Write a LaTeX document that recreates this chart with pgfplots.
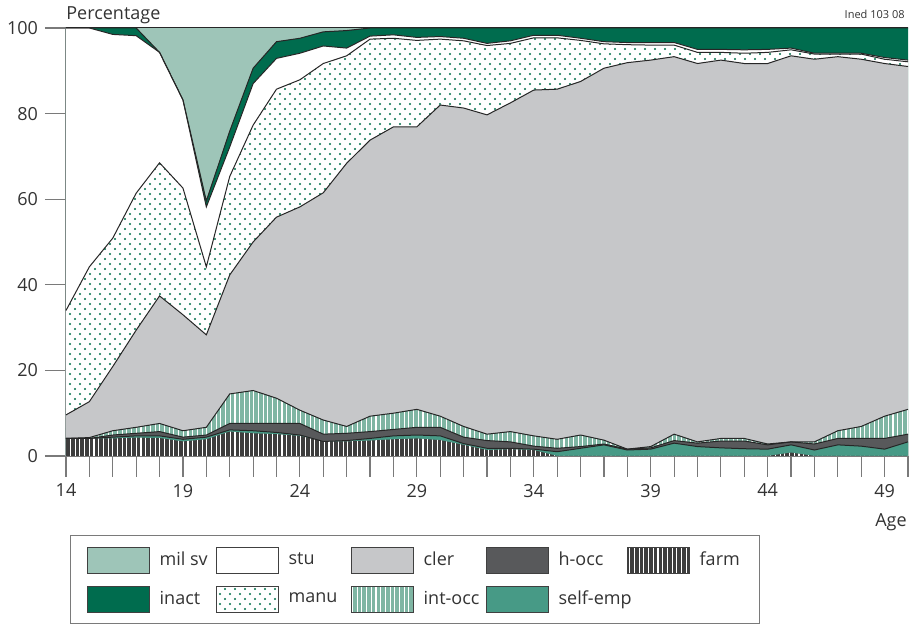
\documentclass[border=0pt]{standalone}
\usepackage{fontspec}
\setmainfont{Open Sans}
\usepackage{pgfplots}
\pgfplotsset{compat=1.18}
\usepackage{pgfplotstable}
\usetikzlibrary{patterns.meta}

\definecolor{milsv}{HTML}{9EC5B8}
\definecolor{inact}{HTML}{006C4E}
\definecolor{cler}{HTML}{C6C7C9}
\definecolor{hocc}{HTML}{58595B}
\definecolor{selfemp}{HTML}{479A86}
\definecolor{intocc}{HTML}{7FB5A3}
\definecolor{farm}{HTML}{3D3D3D}
\definecolor{dotgreen}{HTML}{00704A}
\definecolor{axisgrey}{HTML}{7A7A7A}
\definecolor{txt}{HTML}{333333}

% cumulative upper boundaries of each layer
% F farm, S +self-emp, H +h-occ, I +int-occ, C +cler, M +manu, T +stu, N +inact (rest up to 100 = mil sv)
\pgfplotstableread{
age F   S   H   I    C    M    T    N
14  4.1 4.1 4.1 4.1  9.6  34.0 100  100
15  4.1 4.1 4.1 4.3  12.7 44.2 100  100
16  4.1 4.4 4.9 5.9  20.9 50.9 98.5 100
17  4.3 4.7 5.3 6.7  29.4 61.4 98.2 100
18  4.2 4.7 5.7 7.6  37.4 68.5 94.3 94.3
19  3.4 3.9 4.4 5.9  33.0 62.6 83.2 83.2
20  3.9 4.4 4.9 6.7  28.3 44.2 58.2 59.6
21  5.7 6.1 7.6 14.5 42.3 65.3 72.2 75.9
22  5.3 5.9 7.6 15.3 50.0 77.3 87.0 90.6
23  5.1 5.5 7.6 13.5 55.8 85.7 92.9 96.8
24  4.7 4.9 7.6 10.7 58.2 87.9 94.1 97.6
25  3.4 3.4 5.1 8.4  61.5 91.7 95.8 99.1
26  3.4 3.6 5.3 6.9  68.4 93.5 95.3 99.4
27  3.6 4.1 5.7 9.3  73.8 97.4 98.1 100
28  3.9 4.7 6.2 10.0 76.9 97.6 98.4 100
29  4.1 4.9 6.7 10.9 76.9 97.1 97.8 100
30  3.7 4.7 6.7 9.3  82.0 97.4 98.0 100
31  2.6 2.9 4.4 6.9  81.3 97.0 97.6 100
32  1.4 1.8 3.6 5.1  79.7 95.9 96.4 100
33  1.6 1.8 3.3 5.7  82.5 96.4 97.0 100
34  1.4 1.6 2.3 4.7  85.5 97.7 98.3 100
35  0   1.0 1.8 3.9  85.7 97.7 98.3 100
36  0   1.8 2.2 4.9  87.5 97.1 97.6 100
37  0   2.6 2.8 3.7  90.6 96.3 96.8 100
38  0   1.4 1.6 1.6  91.9 96.1 96.6 100
39  0   1.6 1.9 2.2  92.5 96.0 96.6 100
40  0   3.0 3.6 5.1  93.3 96.0 96.6 100
41  0   2.2 3.0 3.3  91.7 94.3 95.0 100
42  0   1.9 3.5 4.1  92.5 94.3 95.0 100
43  0   1.7 3.5 4.1  91.7 94.1 94.9 100
44  0   1.6 2.6 2.8  91.7 94.3 95.0 100
45  0.8 2.6 3.3 3.3  93.5 94.9 95.3 100
46  0   1.4 2.8 3.3  92.7 93.9 94.1 100
47  0   2.6 4.1 5.9  93.3 93.9 94.1 100
48  0   2.3 4.1 6.9  92.7 93.9 94.1 100
49  0   1.6 4.1 9.3  91.7 92.7 93.1 100
50  0   3.3 5.1 10.9 91.0 92.1 92.5 100
}\shares

\tikzset{
  stripes/.style={postaction={pattern={Lines[angle=90,distance=2.35pt,line width=0.55pt]},pattern color=white}},
  dotfill/.style={postaction={pattern={Dots[distance=5pt,radius=0.55pt]},pattern color=dotgreen},
                  postaction={pattern={Dots[distance=5pt,radius=0.55pt,xshift=2.5pt,yshift=2.5pt]},pattern color=dotgreen}},
  edge/.style={draw=black!85,line width=0.5pt,no markers},
}

\begin{document}
\begin{tikzpicture}
\begin{axis}[
  name=ax,
  width=421pt, height=214pt, scale only axis,
  xmin=14, xmax=50, ymin=0, ymax=100,
  axis x line*=bottom, axis y line*=left,
  axis line style={draw=axisgrey,line width=0.6pt},
  clip=false,
  xtick={14,19,...,49},
  minor xtick={15,...,50},
  ytick={0,20,...,100},
  tick align=outside,
  major tick length=10.5pt, minor tick length=10.5pt,
  tick style={draw=axisgrey,line width=0.6pt},
  tick label style={font=\fontsize{9}{11}\selectfont, text=txt},
  /pgf/number format/assume math mode=true,
  legend columns=5,
  legend style={at={(axis description cs:0.0048,-0.185)}, anchor=north west,
    draw=axisgrey, line width=0.6pt, inner xsep=8pt, inner ysep=5.5pt,
    font=\fontsize{9}{11}\selectfont, text=txt,
    /tikz/every odd column/.append style={column sep=3pt},
    /tikz/every even column/.append style={column sep=0pt},
    row sep=6pt},
  legend cell align=left,
  legend image code/.code={\draw[#1,draw=black!75,line width=0.5pt] (0pt,-6.5pt) rectangle (31pt,6.5pt);},
]
% areas, painted from the top layer down
\addplot[fill=milsv,draw=none,forget plot] coordinates {(14,100) (50,100)} \closedcycle;
\addplot[fill=inact,draw=none,forget plot] table[x=age,y=N] {\shares} \closedcycle;
\addplot[fill=white,draw=none,forget plot] table[x=age,y=T] {\shares} \closedcycle;
\addplot[fill=white,draw=none,dotfill,forget plot] table[x=age,y=M] {\shares} \closedcycle;
\addplot[fill=cler,draw=none,forget plot] table[x=age,y=C] {\shares} \closedcycle;
\addplot[fill=intocc,draw=none,stripes,forget plot] table[x=age,y=I] {\shares} \closedcycle;
\addplot[fill=hocc,draw=none,forget plot] table[x=age,y=H] {\shares} \closedcycle;
\addplot[fill=selfemp,draw=none,forget plot] table[x=age,y=S] {\shares} \closedcycle;
\addplot[fill=farm,draw=none,stripes,forget plot] table[x=age,y=F] {\shares} \closedcycle;
% boundary lines
\addplot[edge,forget plot] coordinates {(14,100) (50,100)};
\foreach \c in {N,T,M,C,I,H,S} {
  \addplot[edge,forget plot] table[x=age,y=\c] {\shares};
}
% legend
\addlegendimage{fill=milsv}
\addlegendentry{\makebox[26pt][l]{mil sv}}
\addlegendimage{fill=white}
\addlegendentry{\makebox[29pt][l]{stu}}
\addlegendimage{fill=cler}
\addlegendentry{\makebox[29pt][l]{cler}}
\addlegendimage{fill=hocc}
\addlegendentry{\makebox[32pt][l]{h-occ}}
\addlegendimage{fill=farm,stripes}
\addlegendentry{farm}
\addlegendimage{fill=inact}
\addlegendentry{\makebox[26pt][l]{inact}}
\addlegendimage{fill=white,dotfill}
\addlegendentry{\makebox[29pt][l]{manu}}
\addlegendimage{fill=intocc,stripes}
\addlegendentry{\makebox[29pt][l]{int-occ}}
\addlegendimage{fill=selfemp}
\addlegendentry{\makebox[32pt][l]{self-emp}}
\end{axis}
\node[anchor=base west,inner sep=0pt,text=txt,font=\fontsize{9}{11}\selectfont] at ([yshift=4pt]ax.north west) {Percentage};
\node[anchor=base east,inner sep=0pt,text=txt,font=\fontsize{5.5}{7}\selectfont] at ([xshift=-1.5pt,yshift=4.5pt]ax.north east) {Ined 103 08};
\node[anchor=base east,inner sep=0pt,text=txt,font=\fontsize{9}{11}\selectfont] at ([xshift=-0.5pt,yshift=-35.5pt]ax.south east) {Age};
\pgfresetboundingbox
\path[use as bounding box] ([xshift=-33pt,yshift=-84pt]ax.south west) rectangle ([xshift=1pt,yshift=14pt]ax.north east);
\end{tikzpicture}
\end{document}
